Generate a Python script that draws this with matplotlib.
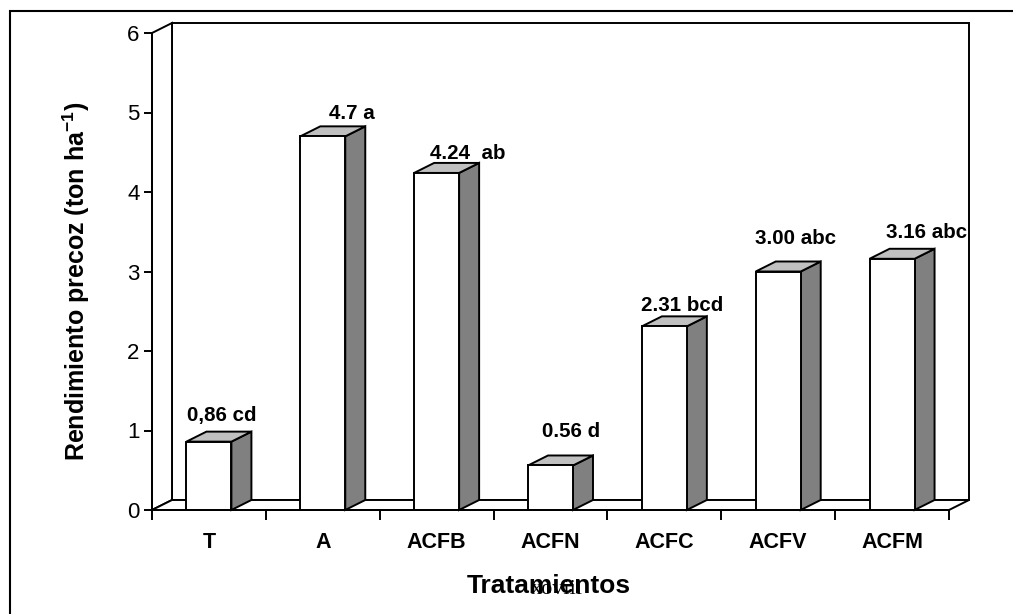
import matplotlib.pyplot as plt
from matplotlib.patches import Polygon, Rectangle

# datos: rendimiento precoz por tratamiento
tratamientos = ["T", "A", "ACFB", "ACFN", "ACFC", "ACFV", "ACFM"]
rendimiento = [0.86, 4.7, 4.24, 0.56, 2.31, 3.00, 3.16]
etiquetas = ["0,86 cd", "4.7 a", "4.24  ab", "0.56 d", "2.31 bcd", "3.00 abc", "3.16 abc"]

plt.rcParams["font.family"] = ["Liberation Sans", "DejaVu Sans"]
plt.rcParams["mathtext.fontset"] = "custom"
plt.rcParams["mathtext.rm"] = "Liberation Sans:bold"
plt.rcParams["mathtext.bf"] = "Liberation Sans:bold"
plt.rcParams["mathtext.default"] = "rm"

W, H = 1013, 614
fig = plt.figure(figsize=(W / 100, H / 100), dpi=100)
# zona frontal del grafico en pixeles: x 152..949, y 510 (0) .. 33 (6)
ax = fig.add_axes([152 / W, (H - 510) / H, 797 / W, 477 / H])
n = len(tratamientos)
x0, x1 = -0.5, n - 0.5
ymax = 6
ax.set_xlim(x0, x1)
ax.set_ylim(0, ymax)
for s in ax.spines.values():
    s.set_visible(False)

# profundidad 3D (20 px a la derecha, 10 px arriba)
DX = 20 / (797 / n)
DY = 10 / (477 / ymax)
lw = 1.4
ek = dict(edgecolor="black", linewidth=lw, clip_on=False, joinstyle="miter")

# paredes y piso
ax.add_patch(Polygon([(x0 + DX, DY), (x1 + DX, DY), (x1 + DX, ymax + DY), (x0 + DX, ymax + DY)],
                     facecolor="white", **ek))
ax.add_patch(Polygon([(x0, 0), (x0 + DX, DY), (x0 + DX, ymax + DY), (x0, ymax)],
                     facecolor="white", **ek))
ax.add_patch(Polygon([(x0, 0), (x1, 0), (x1 + DX, DY), (x0 + DX, DY)],
                     facecolor="white", **ek))

# barras 3D
bw = 0.395
for i, v in enumerate(rendimiento):
    l, r = i - bw / 2, i + bw / 2
    ax.add_patch(Polygon([(r, 0), (r + DX, DY), (r + DX, v + DY), (r, v)],
                         facecolor="#808080", **ek))
    ax.add_patch(Polygon([(l, v), (r, v), (r + DX, v + DY), (l + DX, v + DY)],
                         facecolor="#c0c0c0", **ek))
    ax.add_patch(Rectangle((l, 0), bw, v, facecolor="white", **ek))

# etiquetas de las barras (desplazamiento en px respecto al centro/top frontal)
desp = [(12.6, 26.6), (28.7, 23.3), (31.4, 19.9), (20.5, 33.5),
        (17.6, 21.3), (17.8, 32.5), (34.9, 25.8)]
for i, (v, t) in enumerate(zip(rendimiento, etiquetas)):
    ax.annotate(t, (i, v), xytext=(desp[i][0] * 0.72, desp[i][1] * 0.72),
                textcoords="offset points", ha="center", va="center",
                fontsize=14.8, fontweight="bold", annotation_clip=False)

# ejes
ax.plot([x0, x0], [0, ymax], color="black", lw=lw, clip_on=False, solid_capstyle="projecting")
ax.plot([x0, x1], [0, 0], color="black", lw=lw, clip_on=False, solid_capstyle="projecting")
ax.set_yticks(range(0, ymax + 1))
ax.tick_params(axis="y", direction="out", length=6, width=lw, pad=3, labelsize=16)
ax.set_xticks([x0 + k for k in range(n + 1)])
ax.set_xticklabels([])
ax.tick_params(axis="x", which="major", direction="out", length=7.5, width=lw)
ax.set_xticks(range(n), minor=True)
ax.set_xticklabels(tratamientos, minor=True, fontsize=15.5, fontweight="bold")
ax.tick_params(axis="x", which="minor", length=0, pad=16)

ax.set_ylabel("Rendimiento precoz (ton ha$^{-1}$)", fontsize=18, fontweight="bold")
ax.yaxis.set_label_coords((92 - 152) / 797, (510 - 281.5) / 477)

fig.text(549 / W, 1 - 593 / H, "Tratamientos", ha="center", va="baseline",
         fontsize=19, fontweight="bold")
fig.text(557 / W, 1 - 594 / H, "xoviii", ha="center", va="baseline",
         fontsize=16, family="Liberation Serif")

# marco exterior
fig.patches.append(Rectangle((10 / W, -0.1), 1.5, 1.1 - 11 / H, transform=fig.transFigure,
                             fill=False, edgecolor="black", linewidth=1.5))

fig.savefig("out.png", dpi=100)
